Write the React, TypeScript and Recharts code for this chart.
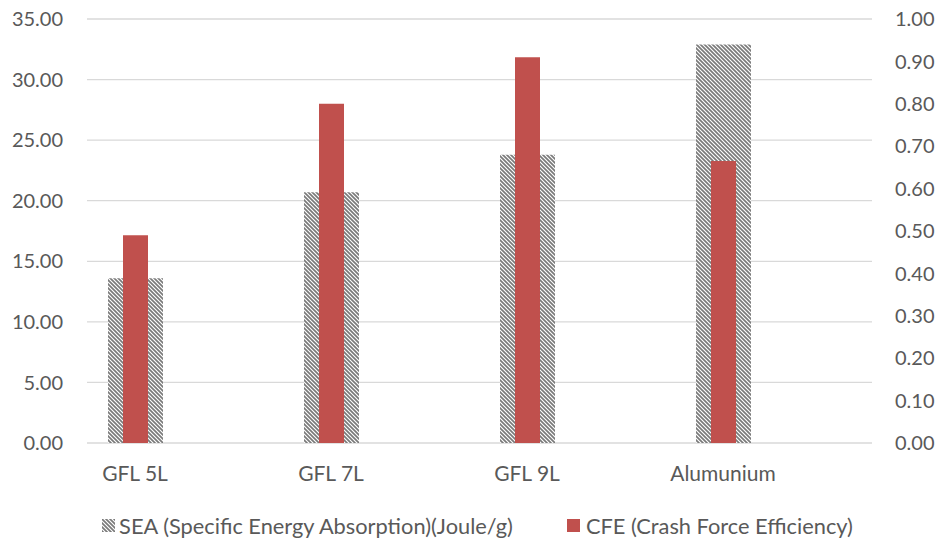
import React from 'react';
import { BarChart, Bar, XAxis, YAxis, CartesianGrid, Legend } from 'recharts';

const categories = ['GFL 5L', 'GFL 7L', 'GFL 9L', 'Alumunium'];
const seaValues = [13.6, 20.7, 23.8, 32.9];
const cfeValues = [0.49, 0.8, 0.91, 0.665];
const leftTicks = [0, 5, 10, 15, 20, 25, 30, 35];
const rightTicks = [0, 0.1, 0.2, 0.3, 0.4, 0.5, 0.6, 0.7, 0.8, 0.9, 1.0];
const seaName = 'SEA (Specific Energy Absorption)(Joule/g)';
const cfeName = 'CFE (Crash Force Efficiency)';

const data = categories.map((c, i) => ({ name: c, sea: seaValues[i], cfe: cfeValues[i] }));

const FONT = 'Lato, "Open Sans", sans-serif';
const TEXT = '#595959';
const RED = '#C0504D';

const HatchDef = ({ id }: { id: string }) => (
  <pattern id={id} patternUnits="userSpaceOnUse" width={4} height={4}>
    <rect x={0} y={0} width={4} height={4} fill="#ffffff" />
    <path d="M-1,-1 L5,5 M-1,3 L1,5 M3,-1 L5,1" stroke="#7a7a7a" strokeWidth={1.7} />
  </pattern>
);

const LegendContent = () => (
  <div
    style={{
      height: 30,
      display: 'flex',
      alignItems: 'center',
      justifyContent: 'center',
      fontFamily: FONT,
      fontSize: 21.8,
      color: TEXT,
      paddingLeft: 12,
      boxSizing: 'border-box',
      whiteSpace: 'nowrap',
    }}
  >
    <svg width={13} height={13} style={{ marginRight: 4 }}>
      <defs>
        <HatchDef id="hatchLegend" />
      </defs>
      <rect x={0} y={0} width={13} height={13} fill="url(#hatchLegend)" />
    </svg>
    <span style={{ marginRight: 54 }}>{seaName}</span>
    <svg width={13} height={13} style={{ marginRight: 6 }}>
      <rect x={0} y={0} width={13} height={13} fill={RED} />
    </svg>
    <span>{cfeName}</span>
  </div>
);

export default function App() {
  return (
    <div style={{ position: 'absolute', left: 0, top: 0, width: 943, height: 542, background: '#fff' }}>
      <BarChart
        width={943}
        height={542}
        data={data}
        margin={{ top: 19, right: 0, left: 0, bottom: 2 }}
      >
        <defs>
          <HatchDef id="hatch" />
        </defs>
        <CartesianGrid yAxisId="left" vertical={false} stroke="#D9D9D9" strokeWidth={1.3} />
        <XAxis
          xAxisId="a"
          dataKey="name"
          padding={{ left: -50, right: 51 }}
          axisLine={false}
          tickLine={false}
          tickSize={0}
          tickMargin={23}
          height={67}
          interval={0}
          tick={{ fill: TEXT, fontSize: 21, fontFamily: FONT }}
        />
        <XAxis xAxisId="b" dataKey="name" padding={{ left: -50, right: 51 }} hide />
        <YAxis
          yAxisId="left"
          orientation="left"
          domain={[0, 35]}
          ticks={leftTicks}
          interval={0}
          width={87}
          axisLine={false}
          tickLine={false}
          tickSize={0}
          tickMargin={24}
          tickFormatter={(v: number) => v.toFixed(2)}
          tick={{ fill: TEXT, fontSize: 20, fontFamily: FONT }}
        />
        <YAxis
          yAxisId="right"
          orientation="right"
          domain={[0, 1]}
          ticks={rightTicks}
          interval={0}
          width={71}
          axisLine={false}
          tickLine={false}
          tickSize={0}
          tickMargin={23}
          tickFormatter={(v: number) => v.toFixed(2)}
          tick={{ fill: TEXT, fontSize: 20, fontFamily: FONT }}
        />
        <Legend verticalAlign="bottom" content={<LegendContent />} />
        <Bar
          xAxisId="a"
          yAxisId="left"
          dataKey="sea"
          name={seaName}
          fill="url(#hatch)"
          barSize={55}
          isAnimationActive={false}
        />
        <Bar
          xAxisId="b"
          yAxisId="right"
          dataKey="cfe"
          name={cfeName}
          fill={RED}
          barSize={25}
          isAnimationActive={false}
        />
      </BarChart>
    </div>
  );
}
